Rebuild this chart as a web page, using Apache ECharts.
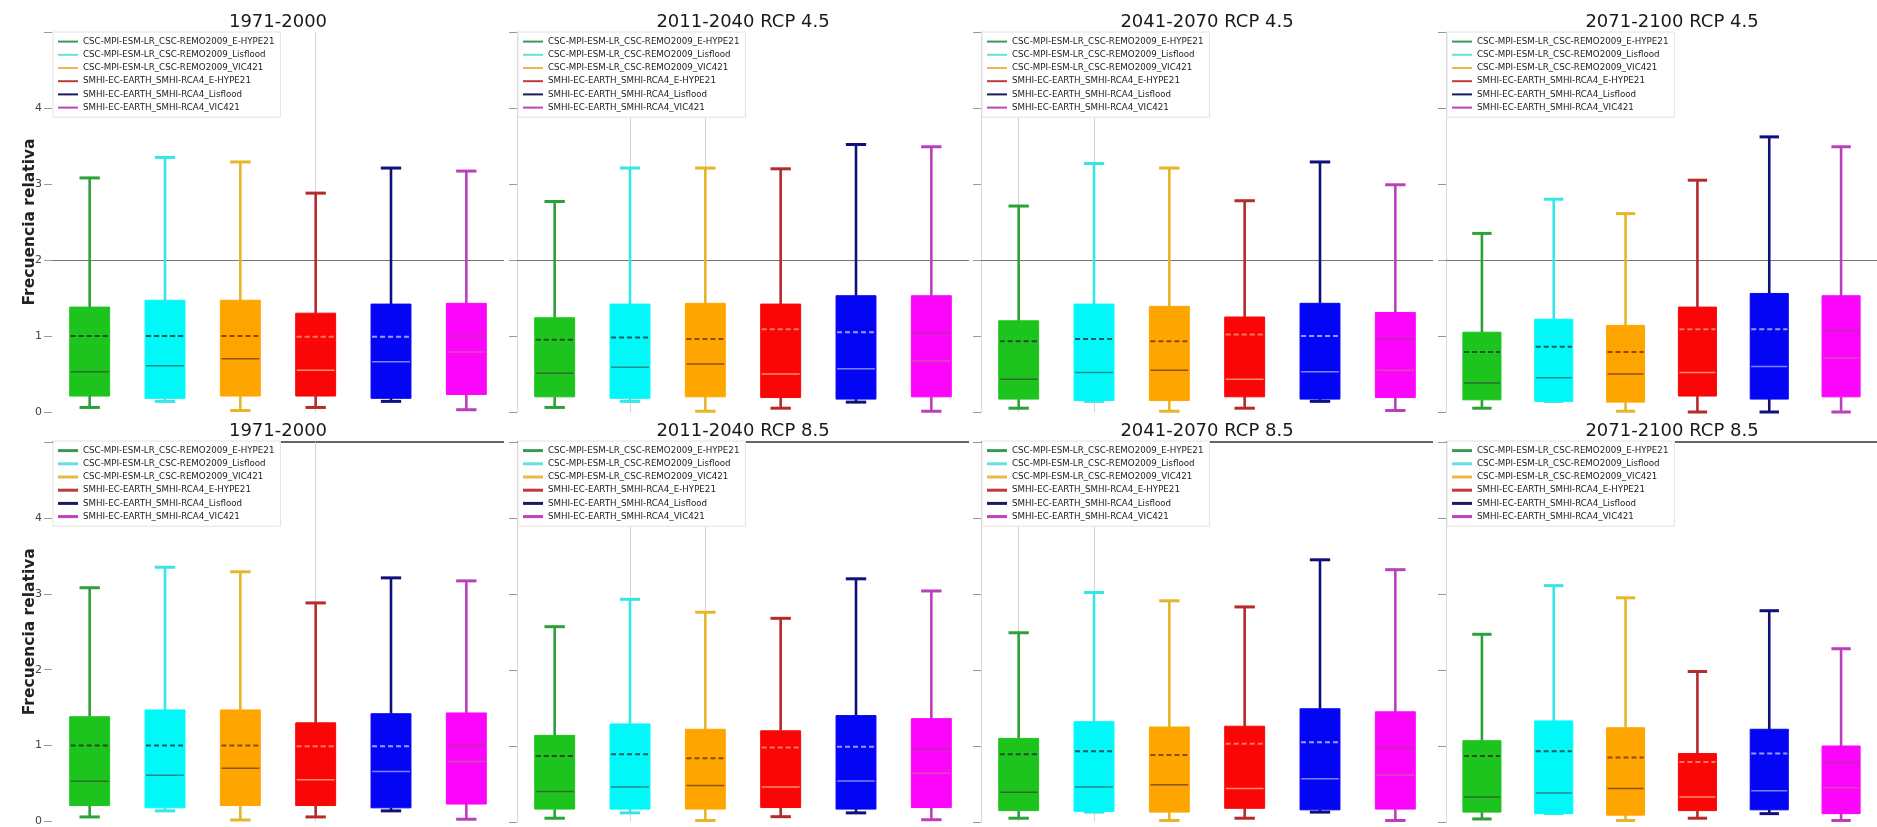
<!DOCTYPE html>
<html>
<head>
<meta charset="utf-8">
<script src="https://cdn.jsdelivr.net/npm/echarts@6/dist/echarts.min.js"></script>
<style>
html,body{margin:0;padding:0;background:#fff;}
#chart{width:1877px;height:827px;}
</style>
</head>
<body>
<div id="chart"></div>
<script>
// ---- data ----
const MODELS = [
  'CSC-MPI-ESM-LR_CSC-REMO2009_E-HYPE21',
  'CSC-MPI-ESM-LR_CSC-REMO2009_Lisflood',
  'CSC-MPI-ESM-LR_CSC-REMO2009_VIC421',
  'SMHI-EC-EARTH_SMHI-RCA4_E-HYPE21',
  'SMHI-EC-EARTH_SMHI-RCA4_Lisflood',
  'SMHI-EC-EARTH_SMHI-RCA4_VIC421'
];
const TITLES = ['1971-2000', '2011-2040 RCP 4.5', '2041-2070 RCP 4.5', '2071-2100 RCP 4.5',
                '1971-2000', '2011-2040 RCP 8.5', '2041-2070 RCP 8.5', '2071-2100 RCP 8.5'];
const Y_TICKS = [0, 1, 2, 3, 4];
const Y_LABEL = 'Frecuencia relativa';

// each row: [lower whisker, Q1, median, mean, Q3, upper whisker]
const HIST = [
  [0.06, 0.21, 0.53, 1.00, 1.38, 3.08],
  [0.14, 0.18, 0.61, 1.00, 1.47, 3.35],
  [0.02, 0.21, 0.70, 1.00, 1.47, 3.29],
  [0.06, 0.21, 0.55, 0.99, 1.30, 2.88],
  [0.14, 0.18, 0.66, 0.99, 1.42, 3.21],
  [0.03, 0.23, 0.79, 1.00, 1.43, 3.17]
];
const RCP45_2011 = [
  [0.06, 0.20, 0.51, 0.95, 1.24, 2.77],
  [0.14, 0.18, 0.59, 0.98, 1.42, 3.21],
  [0.01, 0.20, 0.63, 0.96, 1.43, 3.21],
  [0.05, 0.19, 0.50, 1.09, 1.42, 3.20],
  [0.13, 0.17, 0.57, 1.05, 1.53, 3.52],
  [0.01, 0.20, 0.67, 1.04, 1.53, 3.49]
];
const RCP45_2041 = [
  [0.05, 0.17, 0.43, 0.93, 1.20, 2.71],
  [0.14, 0.15, 0.52, 0.96, 1.42, 3.27],
  [0.01, 0.15, 0.55, 0.93, 1.39, 3.21],
  [0.05, 0.20, 0.43, 1.02, 1.25, 2.78],
  [0.14, 0.17, 0.53, 1.00, 1.43, 3.29],
  [0.02, 0.19, 0.55, 0.96, 1.31, 2.99]
];
const RCP45_2071 = [
  [0.05, 0.16, 0.38, 0.79, 1.05, 2.35],
  [0.14, 0.14, 0.45, 0.86, 1.22, 2.80],
  [0.01, 0.13, 0.50, 0.79, 1.14, 2.61],
  [0.00, 0.21, 0.52, 1.09, 1.38, 3.05],
  [0.00, 0.17, 0.60, 1.09, 1.56, 3.62],
  [0.00, 0.20, 0.71, 1.07, 1.53, 3.49]
];
const RCP85_2011 = [
  [0.05, 0.17, 0.40, 0.87, 1.14, 2.57],
  [0.12, 0.17, 0.46, 0.89, 1.29, 2.93],
  [0.02, 0.17, 0.48, 0.84, 1.22, 2.76],
  [0.07, 0.19, 0.46, 0.98, 1.20, 2.68],
  [0.12, 0.17, 0.54, 0.99, 1.40, 3.20],
  [0.03, 0.19, 0.64, 0.96, 1.36, 3.04]
];
const RCP85_2041 = [
  [0.05, 0.15, 0.39, 0.89, 1.10, 2.49],
  [0.13, 0.14, 0.46, 0.93, 1.32, 3.02],
  [0.02, 0.13, 0.49, 0.88, 1.25, 2.91],
  [0.05, 0.18, 0.44, 1.03, 1.26, 2.83],
  [0.13, 0.16, 0.57, 1.05, 1.49, 3.45],
  [0.02, 0.17, 0.62, 0.98, 1.45, 3.32]
];
const RCP85_2071 = [
  [0.04, 0.13, 0.33, 0.87, 1.07, 2.47],
  [0.11, 0.11, 0.38, 0.93, 1.33, 3.11],
  [0.02, 0.09, 0.44, 0.85, 1.24, 2.95],
  [0.05, 0.15, 0.33, 0.79, 0.90, 1.98],
  [0.11, 0.16, 0.41, 0.90, 1.22, 2.78],
  [0.02, 0.11, 0.45, 0.78, 1.00, 2.28]
];
const PANELS = [HIST, RCP45_2011, RCP45_2041, RCP45_2071, HIST, RCP85_2011, RCP85_2041, RCP85_2071];
// faint vertical guide lines visible in the original (category indices per panel)
const GUIDES = [[3], [1, 2], [0, 1], [], [3], [1, 2], [0, 1], []];

// ---- styling ----
const BOX     = ['#1dc41d', '#00f8f8', '#ffa500', '#fa0606', '#0505f5', '#fb05fb'];
const WHISKER = ['#2ea03a', '#36e6e6', '#e5b52a', '#b52a2a', '#10107a', '#bb3fbb'];
const MED     = ['#2f6a2f', '#1b8a8a', '#8a5515', '#ff8c6a', '#8080ff', '#d84ab8'];
const MEAN    = ['#1d4d1d', '#0f5c5c', '#8c4a00', '#ff7a5a', '#9a9aff', '#b8309a'];
const LEG     = ['#3a9a55', '#66e0e0', '#e8b84a', '#c03a3a', '#1a1a60', '#c040c0'];
const FONT = 'DejaVu Sans';

const LEFTS = [52, 517, 981, 1446];
const W = 452, H = 380;
const TOPS = [32, 442];

function makeRender(m) {
  return function (params, api) {
    const x = api.value(0);
    const c = v => api.coord([x, v]);
    const lo = c(api.value(1)), q1 = c(api.value(2)), md = c(api.value(3)),
          mn = c(api.value(4)), q3 = c(api.value(5)), hi = c(api.value(6));
    const band = api.size([1, 0])[0];
    const bw = band * 0.53, cw = band * 0.27;
    const cx = lo[0];
    const ws = { stroke: WHISKER[m], lineWidth: 2.6 };
    const cs = { stroke: WHISKER[m], lineWidth: 3 };
    return {
      type: 'group',
      children: [
        { type: 'line', shape: { x1: cx, y1: q3[1], x2: cx, y2: hi[1] }, style: ws },
        { type: 'line', shape: { x1: cx, y1: q1[1], x2: cx, y2: lo[1] }, style: ws },
        { type: 'line', shape: { x1: cx - cw / 2, y1: hi[1], x2: cx + cw / 2, y2: hi[1] }, style: cs },
        { type: 'line', shape: { x1: cx - cw / 2, y1: lo[1], x2: cx + cw / 2, y2: lo[1] }, style: cs },
        { type: 'rect', shape: { x: cx - bw / 2, y: q3[1], width: bw, height: q1[1] - q3[1] },
          style: { fill: BOX[m], stroke: BOX[m], lineWidth: 1 } },
        { type: 'line', shape: { x1: cx - bw / 2 + 1, y1: md[1], x2: cx + bw / 2 - 1, y2: md[1] },
          style: { stroke: MED[m], lineWidth: 1.5 } },
        { type: 'line', shape: { x1: cx - bw / 2 + 1, y1: mn[1], x2: cx + bw / 2 - 1, y2: mn[1] },
          style: { stroke: MEAN[m], lineWidth: 2, lineDash: [5, 3] } }
      ]
    };
  };
}

const grids = [], xAxes = [], yAxes = [], titles = [], legends = [], series = [];
for (let p = 0; p < 8; p++) {
  const row = p < 4 ? 0 : 1, col = p % 4;
  const left = LEFTS[col], top = TOPS[row];
  grids.push({ left: left, top: top, width: W, height: H, containLabel: false });
  xAxes.push({
    type: 'category', gridIndex: p, data: MODELS, boundaryGap: true,
    axisLine: { show: false }, axisTick: { show: false }, axisLabel: { show: false }, splitLine: { show: false }
  });
  yAxes.push({
    type: 'value', gridIndex: p, min: 0, max: 5, interval: 1,
    name: col === 0 ? Y_LABEL : '', nameLocation: 'middle', nameRotate: 90, nameGap: 14,
    nameMoveOverlap: false,
    nameTextStyle: { fontFamily: FONT, fontWeight: 'bold', fontSize: 15.5, color: '#222' },
    axisLine: { show: col !== 0, lineStyle: { color: '#d8d8d8', width: 1 } },
    axisTick: { show: true, length: 8, lineStyle: { color: '#999' } },
    axisLabel: {
      show: col === 0, margin: 10, fontFamily: FONT, fontSize: 11, color: '#444',
      formatter: v => (Y_TICKS.indexOf(v) >= 0 ? String(v) : '')
    },
    splitLine: { show: false }
  });
  titles.push({
    text: TITLES[p], left: left + W / 2, textAlign: 'center',
    top: row === 0 ? 13 : 422, padding: 0,
    textStyle: { fontFamily: FONT, fontSize: 18, fontWeight: 'normal', color: '#1a1a1a' }
  });
  legends.push({
    orient: 'vertical', left: left + 1, top: row === 0 ? 32 : 441,
    padding: [3, 6, 3, 5], itemGap: 0, icon: 'rect', itemWidth: 20, itemHeight: row === 0 ? 2 : 3,
    borderColor: '#e2e2e2', borderWidth: 1, backgroundColor: '#ffffff', selectedMode: false,
    textStyle: { fontFamily: FONT, fontSize: 8.7, lineHeight: 13.2, color: '#1c1c1c' },
    data: MODELS.map((n, i) => ({ name: n, itemStyle: { color: LEG[i] } }))
  });
  PANELS[p].forEach((vals, m) => {
    const s = {
      type: 'custom', name: MODELS[m], xAxisIndex: p, yAxisIndex: p,
      itemStyle: { color: LEG[m] },
      encode: { x: 0, y: [1, 2, 3, 4, 5, 6] },
      renderItem: makeRender(m),
      data: [[m].concat(vals)],
      silent: true, clip: false, z: 3
    };
    if (m === 0) {
      const lines = [{ yAxis: row === 0 ? 2 : 5,
        lineStyle: row === 0 ? { color: '#767676', width: 1 } : { color: '#333', width: 1.5 } }];
      GUIDES[p].forEach(g => lines.push({ xAxis: MODELS[g], lineStyle: { color: '#d4d4d4', width: 1 } }));
      s.markLine = {
        silent: true, symbol: 'none', label: { show: false }, z: 1,
        lineStyle: { type: 'solid' },
        data: lines
      };
    }
    series.push(s);
  });
}

const chart = echarts.init(document.getElementById('chart'), null, { renderer: 'canvas' });
chart.setOption({
  animation: false,
  backgroundColor: '#ffffff',
  title: titles,
  legend: legends,
  grid: grids,
  xAxis: xAxes,
  yAxis: yAxes,
  series: series
});
</script>
</body>
</html>
